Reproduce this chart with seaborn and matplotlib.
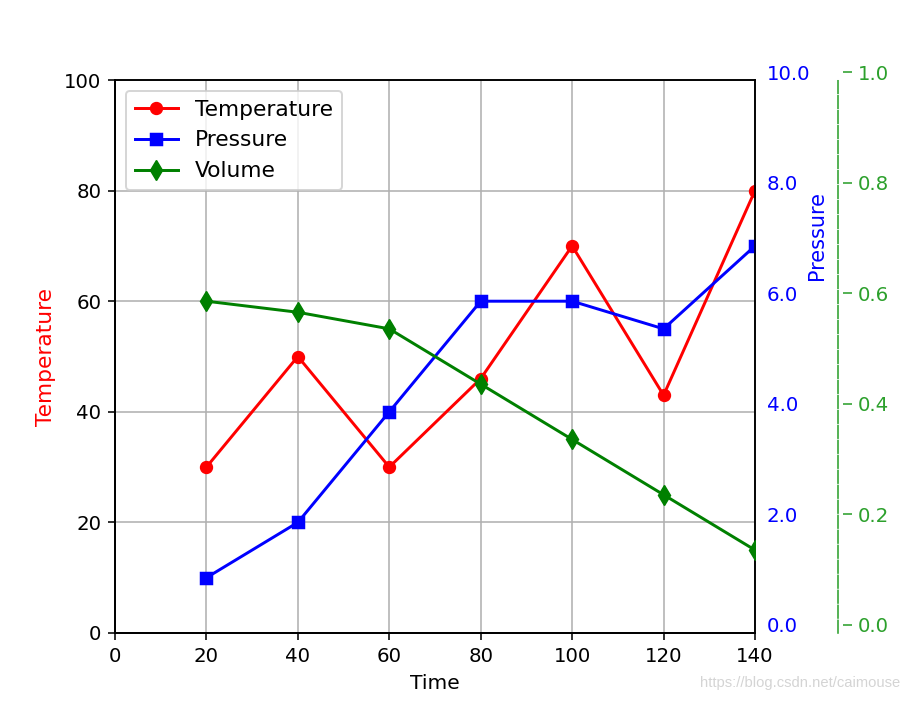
import matplotlib
matplotlib.use("Agg")
import matplotlib.pyplot as plt
import matplotlib.transforms as mtransforms
from matplotlib.ticker import FixedLocator, FormatStrFormatter
import seaborn as sns
import pandas as pd

time = [20, 40, 60, 80, 100, 120, 140]
temperature = [30, 50, 30, 46, 70, 43, 80]
pressure = [1, 2, 4, 6, 6, 5.5, 7]
volume = [0.60, 0.58, 0.55, 0.45, 0.35, 0.25, 0.15]

df = pd.DataFrame({'Time': time, 'Temperature': temperature,
                   'Pressure': pressure, 'Volume': volume})

dpi = 142
fig = plt.figure(figsize=(909 / dpi, 701 / dpi), dpi=dpi)
host = fig.add_axes([115 / 909, 68 / 701, 640 / 909, 553 / 701])
par1 = host.twinx()
par2 = host.twinx()

sns.lineplot(x='Time', y='Temperature', data=df, ax=host, color='r', marker='o',
             markersize=6, markeredgecolor='r', linewidth=1.5, label='Temperature')
sns.lineplot(x='Time', y='Pressure', data=df, ax=par1, color='b', marker='s',
             markersize=6, markeredgecolor='b', linewidth=1.5, label='Pressure')
sns.lineplot(x='Time', y='Volume', data=df, ax=par2, color='g', marker='d',
             markersize=7, markeredgecolor='g', linewidth=1.5, label='Volume')

host.set_xlim(0, 140)
host.set_ylim(0, 100)
par1.set_ylim(0, 10)
par2.set_ylim(0, 1)
host.grid(True, color='#b0b0b0', linewidth=0.8)
host.set_xlabel('Time', fontsize=10.3)
host.set_ylabel('Temperature', color='r', fontsize=11)

# pressure axis
par1.yaxis.set_major_locator(FixedLocator([0, 2, 4, 6, 8, 10]))
par1.yaxis.set_major_formatter(FormatStrFormatter('%.1f'))
par1.tick_params(axis='y', length=0, pad=6, labelcolor='b')
par1.set_ylabel('Pressure', color='b', fontsize=10.6)
par1.yaxis.set_label_coords(1.082, 0.718)

# volume axis
green = '#2ca02c'
par2.spines['right'].set_position(('outward', 83 / dpi * 72))
par2.spines['right'].set_color(green)
par2.spines['right'].set_linestyle((0, (8, 1.5)))
par2.spines['top'].set_visible(False)
par2.yaxis.set_major_locator(FixedLocator([0, 0.2, 0.4, 0.6, 0.8, 1.0]))
par2.yaxis.set_major_formatter(FormatStrFormatter('%.1f'))
par2.tick_params(axis='y', colors=green, length=4.5, pad=3)
par2.set_ylabel('')

# right-side ticks sit a little higher than the data grid
off1 = mtransforms.ScaledTranslation(0, 8 / dpi, fig.dpi_scale_trans)
for t in par1.yaxis.get_major_ticks():
    t.label2.set_transform(t.label2.get_transform() + off1)
off2 = mtransforms.ScaledTranslation(5 / dpi, 8 / dpi, fig.dpi_scale_trans)
for t in par2.yaxis.get_major_ticks():
    t.label2.set_transform(t.label2.get_transform() + off2)
    t.tick2line.set_transform(t.tick2line.get_transform() + off2)

handles = []
labels = []
for a in (host, par1, par2):
    h, l = a.get_legend_handles_labels()
    handles += h
    labels += l
    if a.get_legend() is not None:
        a.get_legend().remove()
host.legend(handles, labels, loc='upper left', fontsize=11)

fig.text(900 / 909, 1 - 683 / 701, 'https://blog.csdn.net/caimouse', ha='right',
         va='center', color='#d4d4d4', fontsize=7.5, family='Liberation Sans')

fig.savefig('out.png', dpi=dpi)
